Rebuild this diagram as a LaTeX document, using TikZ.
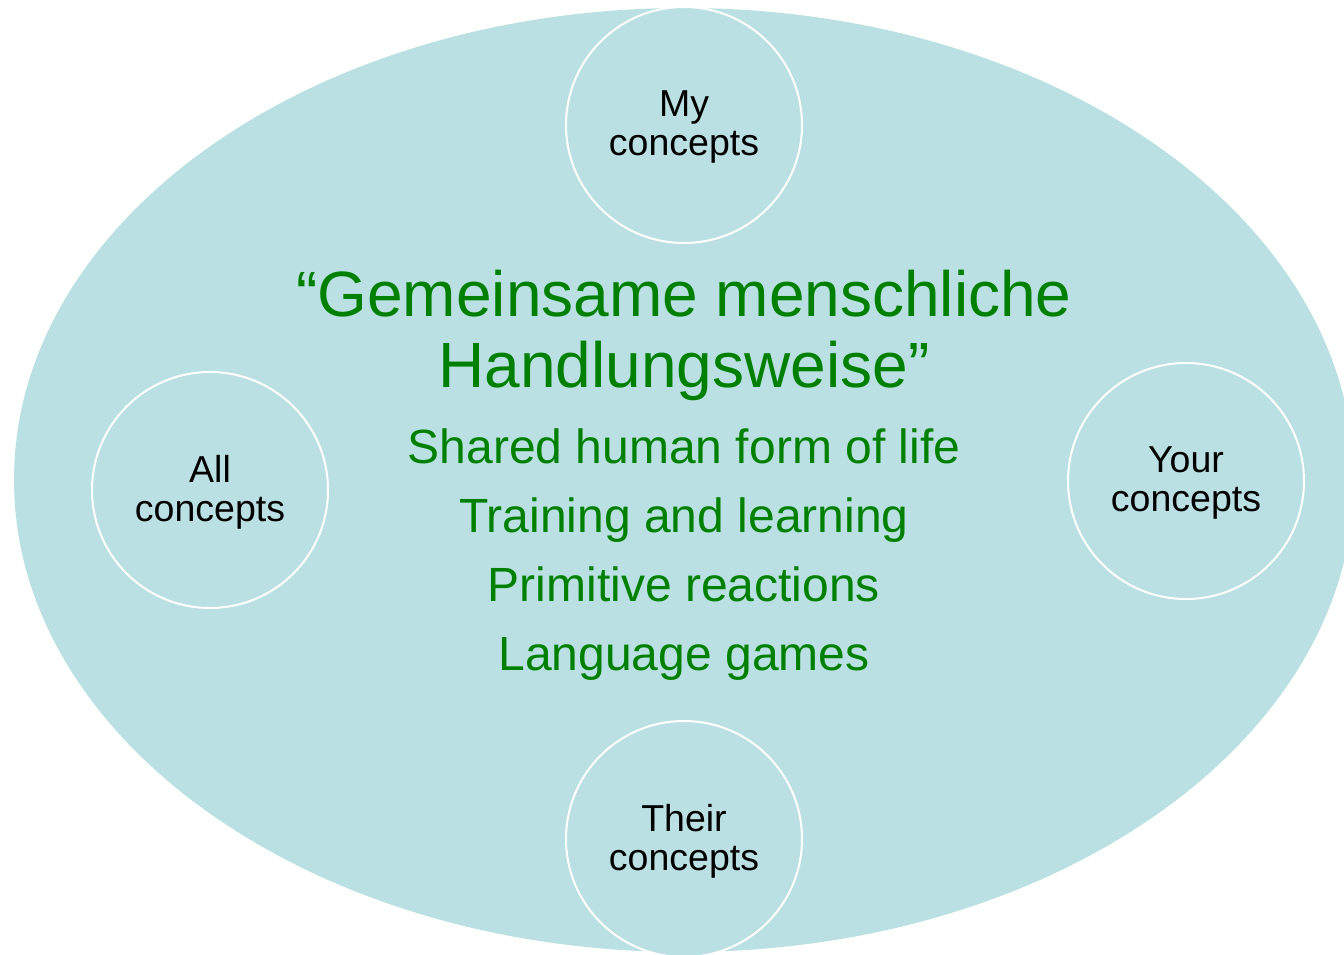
\documentclass[tikz,border=0pt]{standalone}
\usepackage{fontspec}
\setmainfont{Liberation Sans}
\definecolor{teal}{RGB}{186,224,227}
\definecolor{titlegreen}{RGB}{0,128,0}
\begin{document}
\begin{tikzpicture}[x=1pt,y=-1pt,
  concept/.style={circle, minimum size=236pt, inner sep=0pt, fill=teal, draw=white, line width=2pt},
  conceptlabel/.style={align=center, text=black, inner sep=0pt, font=\fontsize{37.5}{39}\selectfont},
  titleline/.style={anchor=base, text=titlegreen, inner sep=0pt, font=\fontsize{64}{71}\selectfont},
  itemline/.style={anchor=base, text=titlegreen, inner sep=0pt, font=\fontsize{48}{69}\selectfont}]
\useasboundingbox (0,0) rectangle (1344,954);
\clip (0,0) rectangle (1344,954);
\fill[teal] (684,480) ellipse [x radius=670, y radius=472];
\node[concept] (my) at (684,125) {};
\node[concept] (all) at (210,490) {};
\node[concept] (your) at (1186,481) {};
\node[concept] (their) at (684,839) {};
\node[conceptlabel] (myl) at ([yshift=-2pt]my.center) {My\\concepts};
\node[conceptlabel] (alll) at ([yshift=-2pt]all.center) {All\\concepts};
\node[conceptlabel] (yourl) at ([yshift=-2pt]your.center) {Your\\concepts};
\node[conceptlabel] (theirl) at ([yshift=-2pt]their.center) {Their\\concepts};
\node[titleline] (t1) at (684,316) {“Gemeinsame menschliche};
\node[titleline] (t2) at (684,387) {Handlungsweise”};
\node[itemline] (i1) at (684,463) {Shared human form of life};
\node[itemline] (i2) at (684,532) {Training and learning};
\node[itemline] (i3) at (684,601) {Primitive reactions};
\node[itemline] (i4) at (684,670) {Language games};
\end{tikzpicture}
\end{document}
